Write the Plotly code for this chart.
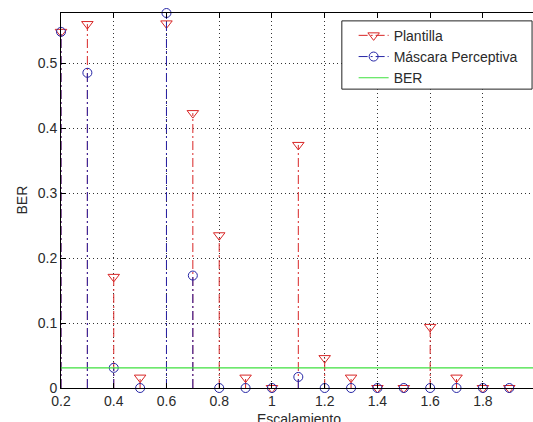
import plotly.graph_objects as go

# ---- data ----
escalamiento = [0.2, 0.3, 0.4, 0.5, 0.6, 0.7, 0.8, 0.9, 1.0, 1.1,
                1.2, 1.3, 1.4, 1.5, 1.6, 1.7, 1.8, 1.9, 2.0]
plantilla = [0.548, 0.560, 0.171, 0.016, 0.561, 0.423, 0.235, 0.016, 0.0, 0.374,
             0.046, 0.016, 0.0, 0.0, 0.094, 0.016, 0.0, 0.0, 0.0]
mascara = [0.548, 0.485, 0.031, 0.0, 0.577, 0.173, 0.0, 0.0, 0.0, 0.017,
           0.0, 0.0, 0.0, 0.0, 0.0, 0.0, 0.0, 0.0, 0.0]
ber_umbral = 0.031

x_ticks = [0.2, 0.4, 0.6, 0.8, 1.0, 1.2, 1.4, 1.6, 1.8, 2.0]
x_tick_labels = ["0.2", "0.4", "0.6", "0.8", "1", "1.2", "1.4", "1.6", "1.8", "2"]
y_ticks = [0, 0.1, 0.2, 0.3, 0.4, 0.5]
y_tick_labels = ["0", "0.1", "0.2", "0.3", "0.4", "0.5"]

RED = "#d82626"
BLUE = "#2626a6"
GREEN = "#3ee03e"
TEXT = "#2a2a2a"
FONT = "Arial, 'Liberation Sans', sans-serif"
STEM_DASH = "9px,3px,2px,3px"


def stems(xs, ys):
    sx, sy = [], []
    for x, y in zip(xs, ys):
        sx += [x, x, None]
        sy += [0, y, None]
    return sx, sy


fig = go.Figure()

for name, vals, color, symbol, size in [
    ("Plantilla", plantilla, RED, "triangle-down-open", 10),
    ("Máscara Perceptiva", mascara, BLUE, "circle-open", 9),
]:
    sx, sy = stems(escalamiento, vals)
    fig.add_trace(go.Scatter(x=sx, y=sy, mode="lines", showlegend=False,
                             line=dict(color=color, width=1, dash=STEM_DASH),
                             hoverinfo="skip", cliponaxis=False))
    fig.add_trace(go.Scatter(x=escalamiento, y=vals, mode="markers", showlegend=False,
                             marker=dict(symbol=symbol, size=size, color=color,
                                         line=dict(width=1, color=color)),
                             cliponaxis=False))
    fig.add_trace(go.Scatter(x=[None], y=[None], mode="lines+markers", name=name,
                             line=dict(color=color, width=1, dash=STEM_DASH),
                             marker=dict(symbol=symbol, size=size, color=color,
                                         line=dict(width=1, color=color))))

fig.add_trace(go.Scatter(x=[escalamiento[0], escalamiento[-1]], y=[ber_umbral, ber_umbral],
                         mode="lines", name="BER", line=dict(color=GREEN, width=1.2)))

fig.update_layout(
    width=533, height=422,
    margin=dict(l=61, r=0, t=13, b=34, pad=0),
    paper_bgcolor="white", plot_bgcolor="white",
    font=dict(family=FONT, size=14, color=TEXT),
    showlegend=True,
    legend=dict(x=0.62, y=0.982, xanchor="left", yanchor="top",
                bgcolor="rgba(0,0,0,0)", borderwidth=0,
                font=dict(size=14, color=TEXT), tracegroupgap=0),
    shapes=[dict(type="rect", xref="paper", yref="paper",
                 x0=0.595, x1=0.998, y0=0.797, y1=0.979,
                 line=dict(color="#222222", width=1), fillcolor="white",
                 layer="above")],
    xaxis=dict(range=[0.2, 1.99], tickvals=x_ticks, ticktext=x_tick_labels,
               showgrid=True, gridcolor="#333333", gridwidth=1, griddash="1px,3px",
               zeroline=False, showline=True, linecolor="black", linewidth=1,
               mirror="ticks", ticks="inside", ticklen=5, tickcolor="black",
               tickfont=dict(size=14, color=TEXT)),
    yaxis=dict(range=[0, max(mascara)], tickvals=y_ticks, ticktext=y_tick_labels,
               showgrid=True, gridcolor="#333333", gridwidth=1, griddash="1px,3px",
               zeroline=False, showline=True, linecolor="black", linewidth=1,
               mirror=False, ticks="inside", ticklen=5, tickcolor="black",
               tickfont=dict(size=14, color=TEXT)),
    annotations=[
        dict(text="Escalamiento", xref="paper", yref="paper", x=0.5045, y=0,
             xanchor="center", yanchor="top", yshift=-21, showarrow=False,
             font=dict(size=14, color=TEXT)),
        dict(text="BER", xref="paper", yref="paper", x=0, y=0.5,
             xanchor="center", yanchor="middle", xshift=-40, textangle=-90,
             showarrow=False, font=dict(size=14, color=TEXT)),
    ],
)

fig.write_html(
    "out.html",
    config={"displayModeBar": False},
    post_script=(
        "document.documentElement.style.margin='0';"
        "document.documentElement.style.overflow='hidden';"
        "document.body.style.margin='0';"
        "document.body.style.overflow='hidden';"
    ),
)
